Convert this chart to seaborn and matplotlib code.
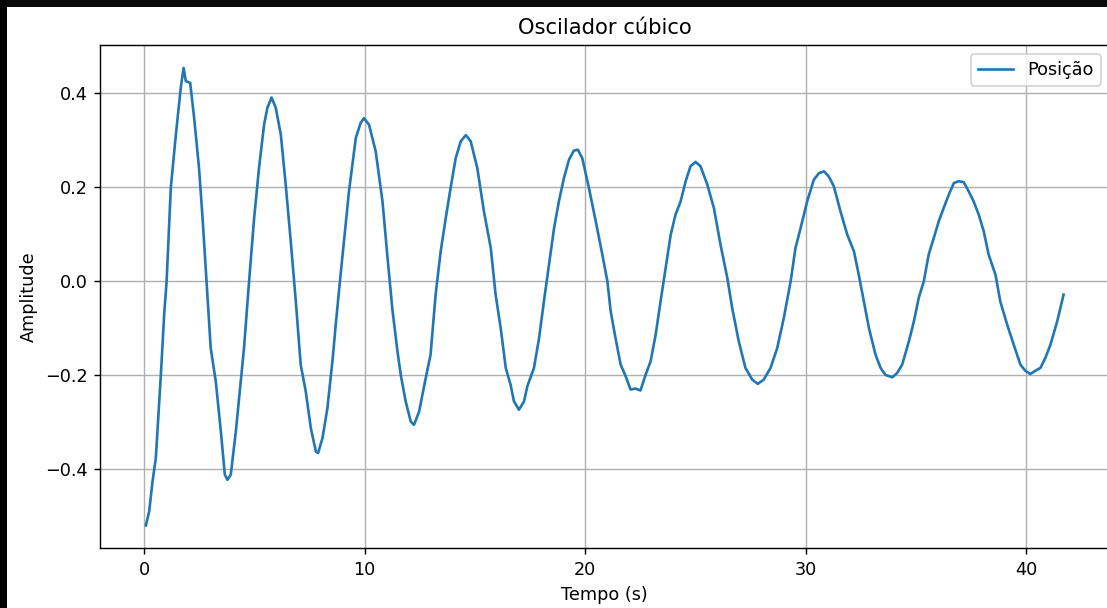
import matplotlib
matplotlib.use("Agg")
import matplotlib.pyplot as plt
import seaborn as sns
import pandas as pd
from matplotlib.patches import Rectangle

# Time samples (s) of the cubic oscillator trace
tempo = [
    0.08, 0.23, 0.38, 0.53, 0.76, 0.91, 1.02, 1.21, 1.44, 1.66, 1.79, 1.89,
    2.09, 2.27, 2.49, 2.65, 2.84, 3.02, 3.25, 3.48, 3.66, 3.78, 3.93, 4.16,
    4.38, 4.53, 4.76, 4.99, 5.21, 5.44, 5.59, 5.78, 5.97, 6.20, 6.42, 6.65,
    6.88, 7.10, 7.33, 7.56, 7.79, 7.89, 8.09, 8.31, 8.54, 8.69, 8.88, 9.29,
    9.60, 9.82, 9.97, 10.20, 10.50, 10.81, 11.03, 11.26, 11.49, 11.64, 11.86,
    12.09, 12.24, 12.47, 12.77, 12.99, 13.22, 13.45, 13.68, 13.90, 14.13,
    14.36, 14.59, 14.81, 15.11, 15.41, 15.72, 15.94, 16.17, 16.40, 16.62,
    16.77, 17.00, 17.23, 17.38, 17.68, 17.91, 18.13, 18.36, 18.59, 18.81,
    19.04, 19.27, 19.49, 19.67, 19.87, 20.17, 20.48, 20.78, 21.01, 21.16,
    21.38, 21.61, 21.84, 22.06, 22.29, 22.51, 22.74, 22.97, 23.20, 23.42,
    23.65, 23.88, 24.10, 24.33, 24.56, 24.78, 25.01, 25.23, 25.54, 25.84,
    26.14, 26.45, 26.67, 26.97, 27.27, 27.58, 27.83, 28.10, 28.41, 28.71,
    29.01, 29.32, 29.54, 29.77, 30.07, 30.37, 30.60, 30.83, 31.05, 31.28,
    31.58, 31.89, 32.19, 32.41, 32.64, 32.87, 33.17, 33.40, 33.62, 33.93,
    34.15, 34.38, 34.68, 34.91, 35.13, 35.36, 35.58, 35.81, 36.04, 36.26,
    36.49, 36.72, 36.94, 37.17, 37.40, 37.62, 37.85, 38.08, 38.30, 38.61,
    38.83, 39.14, 39.44, 39.74, 39.96, 40.19, 40.42, 40.65, 40.87, 41.10,
    41.41, 41.70,
]

# Position of the oscillator at each time sample
posicao = [
    -0.519, -0.489, -0.426, -0.376, -0.198, -0.070, 0.000, 0.199, 0.312, 0.411,
    0.454, 0.426, 0.422, 0.347, 0.241, 0.135, -0.007, -0.142, -0.213, -0.319,
    -0.411, -0.422, -0.411, -0.319, -0.213, -0.142, 0.000, 0.135, 0.241, 0.333,
    0.369, 0.391, 0.369, 0.312, 0.206, 0.085, -0.043, -0.177, -0.234, -0.312,
    -0.362, -0.365, -0.333, -0.270, -0.170, -0.092, 0.000, 0.191, 0.305, 0.337,
    0.347, 0.333, 0.277, 0.170, 0.055, -0.060, -0.149, -0.199, -0.255, -0.298,
    -0.305, -0.277, -0.206, -0.156, -0.028, 0.064, 0.135, 0.199, 0.262, 0.298,
    0.311, 0.298, 0.241, 0.149, 0.071, -0.028, -0.099, -0.184, -0.220, -0.255,
    -0.273, -0.255, -0.223, -0.184, -0.121, -0.043, 0.035, 0.113, 0.170, 0.220,
    0.259, 0.278, 0.280, 0.262, 0.199, 0.128, 0.057, 0.000, -0.064, -0.121,
    -0.177, -0.202, -0.230, -0.228, -0.232, -0.199, -0.170, -0.113, -0.043,
    0.028, 0.099, 0.142, 0.170, 0.213, 0.245, 0.254, 0.245, 0.206, 0.156,
    0.078, 0.007, -0.057, -0.128, -0.184, -0.209, -0.218, -0.209, -0.184,
    -0.142, -0.078, 0.000, 0.071, 0.113, 0.170, 0.216, 0.230, 0.234, 0.223,
    0.202, 0.149, 0.099, 0.064, 0.014, -0.043, -0.099, -0.156, -0.184, -0.199,
    -0.204, -0.195, -0.177, -0.128, -0.085, -0.035, 0.000, 0.057, 0.092, 0.128,
    0.156, 0.184, 0.209, 0.213, 0.211, 0.191, 0.170, 0.142, 0.106, 0.057,
    0.014, -0.043, -0.092, -0.135, -0.177, -0.190, -0.197, -0.190, -0.184,
    -0.163, -0.135, -0.085, -0.028,
]

df = pd.DataFrame({"Tempo": tempo, "Posicao": posicao})

W, H = 1107, 608
DPI = 127
fig = plt.figure(figsize=(W / DPI, H / DPI), dpi=DPI, facecolor="white")
ax = fig.add_axes([100 / W, (H - 548.3) / H, 1009.5 / W, 503.3 / H])

sns.lineplot(data=df, x="Tempo", y="Posicao", ax=ax, color="#1f77b4",
             linewidth=1.5, estimator=None, sort=False, label="Posição")

ax.set_title("Oscilador cúbico", fontsize=12)
ax.set_xlabel("Tempo (s)")
ax.set_ylabel("Amplitude")
ax.set_xticks([0, 10, 20, 30, 40])
ax.set_yticks([-0.4, -0.2, 0.0, 0.2, 0.4])
ax.grid(True)
ax.legend(loc="upper right")

# Dark window frame along the top and left edges
fig.patches.append(Rectangle((0, 1 - 7 / H), 1, 7 / H, transform=fig.transFigure,
                             facecolor="#0a0a0a", edgecolor="none", zorder=10))
fig.patches.append(Rectangle((0, 0), 7 / W, 1, transform=fig.transFigure,
                             facecolor="#000000", edgecolor="none", zorder=10))

fig.savefig("out.png", dpi=DPI, facecolor="white")
